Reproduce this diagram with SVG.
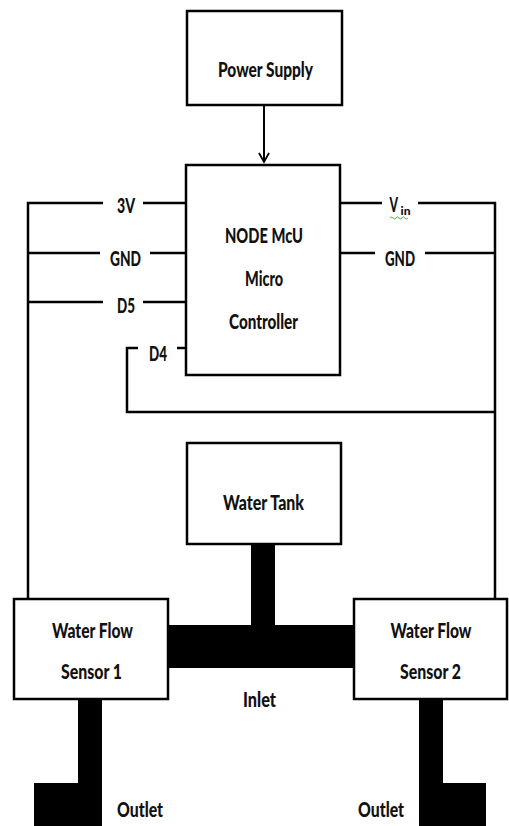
<svg xmlns="http://www.w3.org/2000/svg" width="509" height="826" viewBox="0 0 509 826">
<style>
.box{fill:#fff;stroke:#000;stroke-width:2.5}
.w{fill:none;stroke:#000;stroke-width:2.5}
.t{font-family:Lato,"Open Sans","Liberation Sans",sans-serif;font-weight:900;font-size:20px;fill:#111;text-anchor:middle}
.pipe{fill:#000}
</style>
<defs>
<marker id="ah" markerWidth="12" markerHeight="12" refX="10" refY="6" orient="auto" markerUnits="userSpaceOnUse">
<path d="M1,1 L10,6 L1,11" fill="none" stroke="#000" stroke-width="1.8"/>
</marker>
</defs>
<g id="connectors">
<line class="w" x1="264" y1="105" x2="264" y2="162" marker-end="url(#ah)" style="stroke-width:2"/>
<polyline class="w" points="103,203 28,203 28,599"/>
<line class="w" x1="143" y1="203" x2="186" y2="203"/>
<line class="w" x1="100" y1="253" x2="28" y2="253"/>
<line class="w" x1="150" y1="253" x2="186" y2="253"/>
<line class="w" x1="103" y1="302" x2="28" y2="302"/>
<line class="w" x1="143" y1="302" x2="186" y2="302"/>
<line class="w" x1="177" y1="348" x2="186" y2="348"/>
<polyline class="w" points="138,348 127,348 127,412 495,412"/>
<line class="w" x1="340" y1="203" x2="382" y2="203"/>
<polyline class="w" points="418,203 495,203 495,599"/>
<line class="w" x1="340" y1="253" x2="375" y2="253"/>
<line class="w" x1="425" y1="253" x2="495" y2="253"/>
<text class="t" x="126" y="213" textLength="18" lengthAdjust="spacingAndGlyphs">3V</text>
<text class="t" x="125.5" y="266" textLength="31" lengthAdjust="spacingAndGlyphs">GND</text>
<text class="t" x="126" y="313" textLength="18" lengthAdjust="spacingAndGlyphs">D5</text>
<text class="t" x="158" y="361" textLength="18" lengthAdjust="spacingAndGlyphs">D4</text>
<text class="t" x="389.5" y="212" style="text-anchor:start" textLength="8.5" lengthAdjust="spacingAndGlyphs">V</text>
<text class="t" x="400.5" y="215" style="text-anchor:start;font-size:12px" textLength="10" lengthAdjust="spacingAndGlyphs">in</text>
<path d="M390,218 q1.5,-2 3,0 t3,0 t3,0 t3,0 t3,0 t3,0" fill="none" stroke="#3a3" stroke-width="0.9"/>
<text class="t" x="400" y="266" textLength="30" lengthAdjust="spacingAndGlyphs">GND</text>
</g>
<g id="pipes">
<path class="pipe" d="M251,544 H275 V625 H354 V668 H168 V625 H251 Z"/>
<path class="pipe" d="M78,699 H102 V826 H34 V783 H78 Z"/>
<path class="pipe" d="M419,699 H443 V783 H486 V826 H419 Z"/>
<text class="t" x="259.5" y="707" textLength="33" lengthAdjust="spacingAndGlyphs">Inlet</text>
<text class="t" x="140" y="817" textLength="46" lengthAdjust="spacingAndGlyphs">Outlet</text>
<text class="t" x="381" y="817" textLength="46" lengthAdjust="spacingAndGlyphs">Outlet</text>
</g>
<g id="power-supply">
<rect class="box" x="187" y="11" width="155" height="94"/>
<text class="t" x="265.5" y="77" textLength="95" lengthAdjust="spacingAndGlyphs">Power Supply</text>
</g>
<g id="mcu">
<rect class="box" x="186" y="165" width="154" height="210"/>
<text class="t" x="264" y="243" textLength="78" lengthAdjust="spacingAndGlyphs">NODE McU</text>
<text class="t" x="264" y="286" textLength="38" lengthAdjust="spacingAndGlyphs">Micro</text>
<text class="t" x="263.5" y="329" textLength="69" lengthAdjust="spacingAndGlyphs">Controller</text>
</g>
<g id="water-tank">
<rect class="box" x="187" y="443" width="154" height="101"/>
<text class="t" x="263.5" y="510" textLength="81" lengthAdjust="spacingAndGlyphs">Water Tank</text>
</g>
<g id="sensor-1">
<rect class="box" x="14" y="599" width="154" height="100"/>
<text class="t" x="92.5" y="638" textLength="81" lengthAdjust="spacingAndGlyphs">Water Flow</text>
<text class="t" x="91.5" y="679" textLength="61" lengthAdjust="spacingAndGlyphs">Sensor 1</text>
</g>
<g id="sensor-2">
<rect class="box" x="354" y="599" width="153" height="100"/>
<text class="t" x="431" y="638" textLength="81" lengthAdjust="spacingAndGlyphs">Water Flow</text>
<text class="t" x="430.5" y="679" textLength="61" lengthAdjust="spacingAndGlyphs">Sensor 2</text>
</g>
</svg>
